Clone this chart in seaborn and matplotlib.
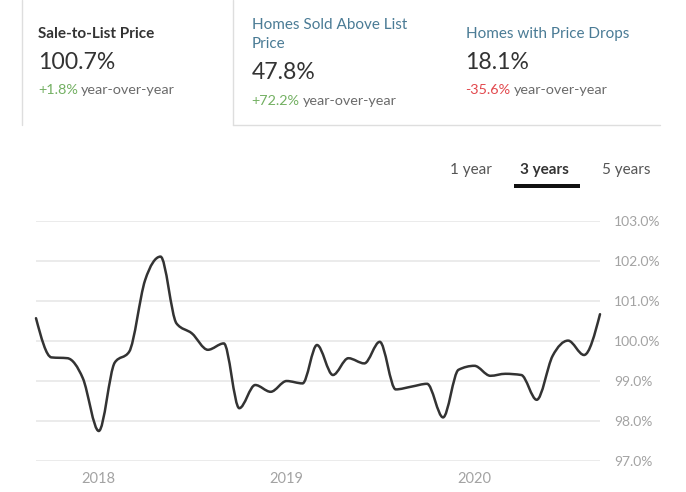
import numpy as np
import pandas as pd
import matplotlib
matplotlib.use("Agg")
import matplotlib.pyplot as plt
import matplotlib.dates as mdates
from matplotlib.path import Path
from matplotlib.patches import PathPatch, Rectangle
from matplotlib.lines import Line2D
import seaborn as sns

# ---------------- data ----------------
months = pd.date_range("2017-09-01", periods=37, freq="MS")
sale_to_list = [100.57, 99.59, 99.57, 99.07, 97.75, 99.46, 99.73, 101.52, 102.11,
                100.44, 100.19, 99.78, 99.94, 98.32, 98.90, 98.73, 99.00, 98.94,
                99.90, 99.15, 99.57, 99.44, 99.98, 98.79, 98.86, 98.93, 98.09,
                99.28, 99.38, 99.13, 99.18, 99.15, 98.53, 99.63, 100.01, 99.65,
                100.67]
y_ticks = [97.0, 98.0, 99.0, 100.0, 101.0, 102.0, 103.0]
x_tick_years = ["2018", "2019", "2020"]
tabs = ["1 year", "3 years", "5 years"]

cards_title = ["Sale-to-List Price", "Homes Sold Above List\nPrice", "Homes with Price Drops"]
cards_value = ["100.7%", "47.8%", "18.1%"]
cards_change = ["+1.8%", "+72.2%", "-35.6%"]

# ---------------- figure ----------------
W, H = 686, 492
sns.set_theme(style="white")
plt.rcParams["font.family"] = ["Lato", "DejaVu Sans"]
fig = plt.figure(figsize=(W / 100, H / 100), dpi=100)
fig.patch.set_facecolor("white")


def fx(x):
    return x / W


def fy(y):
    return 1 - y / H


ax = fig.add_axes([fx(36), fy(461), fx(600) - fx(36), fy(221) - fy(461)])
df = pd.DataFrame({"month": months, "value": sale_to_list})
sns.lineplot(data=df, x="month", y="value", ax=ax, color="#333333", lw=1.8)

# replace straight segments by a smooth monotone cubic curve through the same points
ln = ax.lines[0]
xs = mdates.date2num(df["month"].to_numpy())
ys = np.asarray(sale_to_list, dtype=float)
ln.remove()

n = len(xs)
h = np.diff(xs)
s = np.diff(ys) / h
t = np.zeros(n)
for i in range(1, n - 1):
    p = (s[i - 1] * h[i] + s[i] * h[i - 1]) / (h[i - 1] + h[i])
    t[i] = (np.sign(s[i - 1]) + np.sign(s[i])) * min(abs(s[i - 1]), abs(s[i]), 0.5 * abs(p))
t[0] = (3 * s[0] - t[1]) / 2
t[-1] = (3 * s[-1] - t[-2]) / 2
verts = [(xs[0], ys[0])]
codes = [Path.MOVETO]
for i in range(n - 1):
    dx = (xs[i + 1] - xs[i]) / 3
    verts += [(xs[i] + dx, ys[i] + dx * t[i]),
              (xs[i + 1] - dx, ys[i + 1] - dx * t[i + 1]),
              (xs[i + 1], ys[i + 1])]
    codes += [Path.CURVE4] * 3
ax.add_patch(PathPatch(Path(verts, codes), facecolor="none", edgecolor="#333333",
                       lw=1.8, capstyle="round", joinstyle="round", zorder=3,
                       clip_on=False))

ax.set_xlim(xs[0], xs[-1])
ax.set_ylim(97, 103)
for v in y_ticks:
    ax.axhline(v, color="#e9e9e9", lw=1.3, zorder=1)
ax.set_yticks(y_ticks)
ax.set_yticklabels([f"{v:.1f}%" for v in y_ticks])
ax.yaxis.tick_right()
ax.set_xticks(mdates.date2num(pd.to_datetime([f"{y}-01-01" for y in x_tick_years])))
ax.set_xticklabels(x_tick_years)
ax.tick_params(axis="y", length=0, pad=10, labelsize=10, labelcolor="#a3a3a3")
ax.tick_params(axis="x", length=0, pad=8, labelsize=10.5, labelcolor="#a3a3a3")
ax.set_xlabel("")
ax.set_ylabel("")
for sp in ax.spines.values():
    sp.set_visible(False)
ax.grid(False)

# ---------------- header cards ----------------
border = "#dedede"
fig.add_artist(Line2D([fx(21.5), fx(21.5)], [fy(0), fy(125)], color=border, lw=1))
fig.add_artist(Line2D([fx(233), fx(233)], [fy(0), fy(125)], color=border, lw=1))
fig.add_artist(Line2D([fx(233), fx(660)], [fy(125), fy(125)], color=border, lw=1))

title_colors = ["#333333", "#4a7b95", "#4a7b95"]
title_weights = ["bold", "normal", "normal"]
xs_card = [38, 251.5, 465.5]
title_base = [38.3, 29.3, 38.3]
value_base = [69.3, 79.3, 69.3]
change_base = [94.3, 105, 94.3]
change_colors = ["#73b062", "#73b062", "#e2474c"]

for i in range(3):
    fig.text(fx(xs_card[i]), fy(title_base[i]), cards_title[i].split("\n")[0],
             fontsize=11, color=title_colors[i], fontweight=title_weights[i], va="baseline")
    if "\n" in cards_title[i]:
        fig.text(fx(xs_card[i]), fy(title_base[i] + 18.4), cards_title[i].split("\n")[1],
                 fontsize=11, color=title_colors[i], va="baseline")
    fig.text(fx(xs_card[i]), fy(value_base[i]), cards_value[i], fontsize=16.6,
             color="#333333", va="baseline")
    tx = fig.text(fx(xs_card[i]), fy(change_base[i]), cards_change[i], fontsize=10.4,
                  color=change_colors[i], va="baseline")
    fig.canvas.draw()
    bb = tx.get_window_extent()
    fig.text(bb.x1 / W + fx(3), fy(change_base[i]), "year-over-year", fontsize=10.4,
             color="#6b6b6b", va="baseline")

# ---------------- tabs ----------------
tab_x = [450, 519.5, 601.5]
for lbl, x in zip(tabs, tab_x):
    fig.text(fx(x), fy(174.3), lbl, fontsize=11,
             color="#333333" if lbl == "3 years" else "#555555",
             fontweight="bold" if lbl == "3 years" else "normal", va="baseline")
fig.add_artist(Rectangle((fx(514), fy(187.7)), fx(580) - fx(514), fy(184.3) - fy(187.7),
                         transform=fig.transFigure, color="#111111", lw=0))

fig.savefig("out.png", dpi=100, facecolor="white")
